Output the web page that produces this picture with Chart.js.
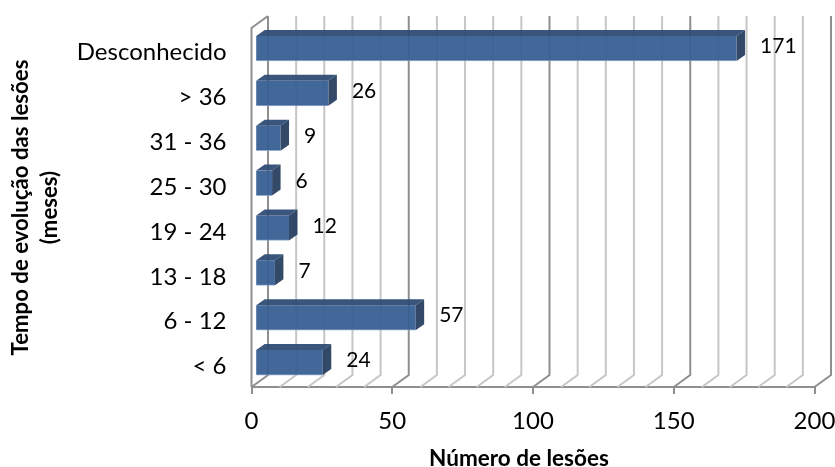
<!DOCTYPE html>
<html>
<head>
<meta charset="utf-8">
<title>Número de lesões</title>
<script src="https://cdn.jsdelivr.net/npm/chart.js@4/dist/chart.umd.min.js"></script>
<style>
  html, body { margin: 0; background: #fff; }
  canvas { display: block; }
</style>
</head>
<body>
<canvas id="chart" width="835" height="467"></canvas>
<script>
const categories = ["Desconhecido", "> 36", "31 - 36", "25 - 30", "19 - 24", "13 - 18", "6 - 12", "< 6"];
const lesoes = [171, 26, 9, 6, 12, 7, 57, 24];
const wallLines = [0, 10, 20, 30, 40, 50, 60, 70, 80, 90, 100, 110, 120, 130, 140, 150, 160, 170, 180, 190, 200];
const yTitle = ["Tempo de evolução das lesões", "(meses)"];
const xTitle = "Número de lesões";

const font = "Lato, 'Open Sans', sans-serif";

// fake 3D: walls behind the bars, box sides and value labels on top
const fake3d = {
  id: "fake3d",
  beforeDatasetsDraw(chart) {
    const { ctx, scales: { x }, chartArea: a } = chart;
    const dx = 16.5, dy = 12;
    ctx.save();
    ctx.lineWidth = 2;
    wallLines.forEach(v => {
      const px = x.getPixelForValue(v);
      ctx.strokeStyle = v % 50 === 0 ? "#8f8f8f" : "#c6c6c6";
      ctx.beginPath();
      ctx.moveTo(px, a.bottom);
      ctx.lineTo(px + dx, a.bottom - dy);
      ctx.lineTo(px + dx, a.top - dy);
      ctx.stroke();
    });
    // left side wall
    const x0 = x.getPixelForValue(0);
    ctx.strokeStyle = "#8f8f8f";
    ctx.beginPath();
    ctx.moveTo(x0, a.bottom);
    ctx.lineTo(x0, a.top);
    ctx.lineTo(x0 + dx, a.top - dy);
    ctx.stroke();
    ctx.restore();
    // bars stand a little inside the floor
    ctx.save();
    ctx.translate(3.7, -2);
  },
  afterDatasetsDraw(chart) {
    const { ctx } = chart;
    const dx = 8.5, dy = 6;
    chart.getDatasetMeta(0).data.forEach((bar, i) => {
      const top = bar.y - bar.height / 2;
      const bottom = bar.y + bar.height / 2;
      ctx.globalAlpha = 0.95;
      ctx.fillStyle = "#2f4c74";
      ctx.beginPath();
      ctx.moveTo(bar.base, top);
      ctx.lineTo(bar.base + dx, top - dy);
      ctx.lineTo(bar.x + dx, top - dy);
      ctx.lineTo(bar.x, top);
      ctx.closePath();
      ctx.fill();
      ctx.fillStyle = "#283f60";
      ctx.beginPath();
      ctx.moveTo(bar.x, top);
      ctx.lineTo(bar.x + dx, top - dy);
      ctx.lineTo(bar.x + dx, bottom - dy);
      ctx.lineTo(bar.x, bottom);
      ctx.closePath();
      ctx.fill();
      ctx.globalAlpha = 1;
      ctx.fillStyle = "#000";
      ctx.font = "21px " + font;
      ctx.textAlign = "left";
      ctx.textBaseline = "middle";
      ctx.fillText(lesoes[i], bar.x + dx + 15, bar.y - 2);
    });
    ctx.restore();
  },
  afterDraw(chart) {
    const { ctx, scales: { x } } = chart;
    ctx.save();
    ctx.fillStyle = "#000";
    ctx.font = "bold 22.5px " + font;
    ctx.textAlign = "center";
    ctx.textBaseline = "middle";
    ctx.fillText(xTitle, x.getPixelForValue(95), 458.5);
    ctx.restore();
  }
};

new Chart(document.getElementById("chart"), {
  type: "bar",
  plugins: [fake3d],
  data: {
    labels: categories,
    datasets: [{
      data: lesoes,
      backgroundColor: "rgba(56,96,147,0.95)",
      borderColor: "rgba(125,155,195,0.8)",
      borderWidth: { bottom: 1 },
      borderSkipped: false,
      barThickness: 25
    }]
  },
  options: {
    indexAxis: "y",
    responsive: false,
    animation: false,
    clip: false,
    layout: { padding: { top: 28, right: 20.5, left: 0, bottom: 0 } },
    plugins: { legend: { display: false }, tooltip: { enabled: false } },
    scales: {
      x: {
        min: 0,
        max: 200,
        afterFit: s => { s.height = 80; s.paddingLeft = 0; s.paddingRight = 0; },
        ticks: {
          stepSize: 50,
          color: "#000",
          padding: 13,
          maxRotation: 0,
          font: { family: font, size: 24 }
        },
        grid: { drawOnChartArea: false, tickLength: 7, color: "#8f8f8f", lineWidth: 2 },
        border: { color: "#8f8f8f", width: 2 }
      },
      y: {
        afterFit: s => { s.width = 251.5; s.paddingTop = 0; s.paddingBottom = 0; },
        title: {
          display: true,
          text: yTitle,
          color: "#000",
          padding: { top: 6, bottom: 0 },
          font: { family: font, size: 22.2, weight: "bold", lineHeight: 1.33 }
        },
        ticks: {
          color: "#000",
          padding: 25,
          labelOffset: 2,
          font: { family: font, size: 24 }
        },
        grid: { display: false, drawTicks: false },
        border: { display: false }
      }
    }
  }
});
</script>
</body>
</html>
